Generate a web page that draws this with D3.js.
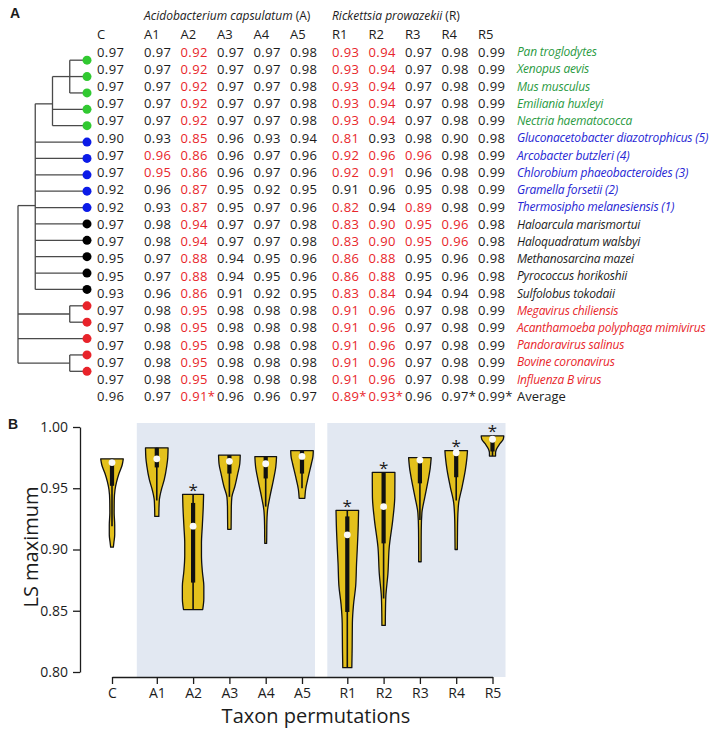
<!DOCTYPE html>
<html><head><meta charset="utf-8">
<script src="https://cdn.jsdelivr.net/npm/d3@7"></script>
<style>
body{margin:0;background:#fff}
svg{display:block}
text{font-family:"Open Sans",sans-serif;fill:#1c1c1c}
</style>
</head><body>
<svg id="chart" width="714" height="734"></svg>
<script>
// ---------------- DATA ----------------
const columns = ["C","A1","A2","A3","A4","A5","R1","R2","R3","R4","R5"];

const species = [
  "Pan troglodytes","Xenopus aevis","Mus musculus","Emiliania huxleyi","Nectria haematococca",
  "Gluconacetobacter diazotrophicus (5)","Arcobacter butzleri (4)","Chlorobium phaeobacteroides (3)",
  "Gramella forsetii (2)","Thermosipho melanesiensis (1)",
  "Haloarcula marismortui","Haloquadratum walsbyi","Methanosarcina mazei","Pyrococcus horikoshii","Sulfolobus tokodaii",
  "Megavirus chiliensis","Acanthamoeba polyphaga mimivirus","Pandoravirus salinus","Bovine coronavirus","Influenza B virus"
];
const speciesGroup = [
  "eukaryote","eukaryote","eukaryote","eukaryote","eukaryote",
  "bacterium","bacterium","bacterium","bacterium","bacterium",
  "archaeon","archaeon","archaeon","archaeon","archaeon",
  "virus","virus","virus","virus","virus"
];

// nested species indices (tree topology)
const treeTopology = [[[[0,1,2],3,4],5,6,7,8,9,10,11,12,13,14],[15,16],17,[18,19]];

const lsValues = [
  [0.97,0.97,0.92,0.97,0.97,0.98,0.93,0.94,0.97,0.98,0.99],
  [0.97,0.97,0.92,0.97,0.97,0.98,0.93,0.94,0.97,0.98,0.99],
  [0.97,0.97,0.92,0.97,0.97,0.98,0.93,0.94,0.97,0.98,0.99],
  [0.97,0.97,0.92,0.97,0.97,0.98,0.93,0.94,0.97,0.98,0.99],
  [0.97,0.97,0.92,0.97,0.97,0.98,0.93,0.94,0.97,0.98,0.99],
  [0.90,0.93,0.85,0.96,0.93,0.94,0.81,0.93,0.98,0.90,0.98],
  [0.97,0.96,0.86,0.96,0.97,0.96,0.92,0.96,0.96,0.98,0.99],
  [0.97,0.95,0.86,0.96,0.97,0.96,0.92,0.91,0.96,0.98,0.99],
  [0.92,0.96,0.87,0.95,0.92,0.95,0.91,0.96,0.95,0.98,0.99],
  [0.92,0.93,0.87,0.95,0.97,0.96,0.82,0.94,0.89,0.98,0.99],
  [0.97,0.98,0.94,0.97,0.97,0.98,0.83,0.90,0.95,0.96,0.98],
  [0.97,0.98,0.94,0.97,0.97,0.98,0.83,0.90,0.95,0.96,0.98],
  [0.95,0.97,0.88,0.94,0.95,0.96,0.86,0.88,0.95,0.96,0.98],
  [0.95,0.97,0.88,0.94,0.95,0.96,0.86,0.88,0.95,0.96,0.98],
  [0.93,0.96,0.86,0.91,0.92,0.95,0.83,0.84,0.94,0.94,0.98],
  [0.97,0.98,0.95,0.98,0.98,0.98,0.91,0.96,0.97,0.98,0.99],
  [0.97,0.98,0.95,0.98,0.98,0.98,0.91,0.96,0.97,0.98,0.99],
  [0.97,0.98,0.95,0.98,0.98,0.98,0.91,0.96,0.97,0.98,0.99],
  [0.97,0.98,0.95,0.98,0.98,0.98,0.91,0.96,0.97,0.98,0.99],
  [0.97,0.98,0.95,0.98,0.98,0.98,0.91,0.96,0.97,0.98,0.99]
];
// cells printed in red (significantly lower)
const redCells = [
  ["A2","R1","R2"],["A2","R1","R2"],["A2","R1","R2"],["A2","R1","R2"],["A2","R1","R2"],
  ["A2","R1"],
  ["A1","A2","R1","R2","R3"],
  ["A1","A2","R1","R2"],
  ["A2"],
  ["A2","R1","R3"],
  ["A2","R1","R2","R3","R4"],
  ["A2","R1","R2","R3","R4"],
  ["A2","R1","R2"],
  ["A2","R1","R2"],
  ["A2","R1","R2"],
  ["A2","R1","R2"],["A2","R1","R2"],["A2","R1","R2"],["A2","R1","R2"],["A2","R1","R2"]
];
const averageValues = [0.96,0.97,0.91,0.96,0.96,0.97,0.89,0.93,0.96,0.97,0.99];
const averageStarred = ["A2","R1","R2","R4","R5"];
const averageRed = ["A2","R1","R2"];

// violin summaries (panel B)
const violinMedian = [0.971,0.974,0.919,0.972,0.970,0.976,0.912,0.935,0.973,0.979,0.990];
const violinQ3     = [0.974,0.983,0.938,0.977,0.976,0.981,0.927,0.963,0.975,0.981,0.993];
const violinQ1     = [0.952,0.967,0.873,0.962,0.958,0.962,0.849,0.905,0.954,0.959,0.980];
const whiskerLow   = [0.919,0.940,0.851,0.943,0.935,0.950,0.8035,0.860,0.924,0.940,0.9763];
const significant  = [false,false,true,false,false,false,true,true,false,true,true];
// density profiles: [LS maximum, relative half-width]
const violinDensity = [
  [[0.974,1.0],[0.969,0.9],[0.962,0.62],[0.955,0.4],[0.949,0.27],[0.94,0.2],[0.93,0.19],[0.92,0.24],[0.912,0.24],[0.906,0.17],[0.902,0.12]],
  [[0.983,1.0],[0.975,0.97],[0.968,0.88],[0.957,0.66],[0.949,0.41],[0.94,0.22],[0.933,0.19],[0.927,0.18]],
  [[0.945,0.93],[0.935,0.9],[0.92,0.82],[0.905,0.74],[0.895,0.74],[0.882,0.82],[0.87,0.95],[0.86,0.95],[0.851,0.85]],
  [[0.977,0.96],[0.97,0.92],[0.962,0.74],[0.951,0.47],[0.943,0.22],[0.935,0.17],[0.925,0.16],[0.9165,0.15]],
  [[0.9758,0.96],[0.968,0.9],[0.957,0.69],[0.943,0.37],[0.932,0.16],[0.92,0.1],[0.91,0.09],[0.905,0.08]],
  [[0.9807,1.0],[0.976,0.97],[0.9704,0.84],[0.959,0.55],[0.949,0.32],[0.9418,0.25]],
  [[0.932,1.0],[0.92,0.97],[0.90,0.88],[0.889,0.82],[0.87,0.74],[0.855,0.55],[0.84,0.45],[0.82,0.43],[0.8035,0.4]],
  [[0.963,1.0],[0.955,1.0],[0.943,0.99],[0.924,0.81],[0.902,0.5],[0.88,0.38],[0.862,0.2],[0.848,0.16],[0.838,0.15]],
  [[0.975,1.0],[0.967,0.92],[0.957,0.74],[0.943,0.44],[0.93,0.18],[0.916,0.12],[0.9,0.11],[0.89,0.11]],
  [[0.9807,1.0],[0.975,0.95],[0.965,0.81],[0.951,0.52],[0.938,0.22],[0.924,0.13],[0.91,0.11],[0.9,0.1]],
  [[0.9927,1.0],[0.990,0.95],[0.986,0.62],[0.982,0.36],[0.979,0.27],[0.9763,0.27]]
];
const yTicks = [0.80,0.85,0.90,0.95,1.00];

// ---------------- STYLE ----------------
const RED = "#e8262b";
const textColor = {eukaryote:"#2a9a3f", bacterium:"#2626d4", archaeon:"#1c1c1c", virus:RED};
const dotColor  = {eukaryote:"#31c931", bacterium:"#0b1be8", archaeon:"#000000", virus:"#e8232a"};

const svg = d3.select("#chart");
const groupOf = c => c === "C" ? 0 : (c[0] === "A" ? 1 : 2);

// ---------------- PANEL A ----------------
svg.append("text").attr("x",10).attr("y",18).style("font-family","Arial, 'Liberation Sans', sans-serif")
  .style("font-weight","bold").style("font-size","14px").text("A");

const rowY = d3.scaleLinear().domain([0,19]).range([52,379.5]);
const groupStart = [97,144,332];
const colStep = 36.5;
const colX = c => {
  const g = groupOf(c);
  const k = g === 0 ? 0 : (+c.slice(1) - 1);
  return groupStart[g] + k*colStep;
};

// titles
const t1 = svg.append("text").attr("x",colX("A1")).attr("y",16).attr("dy","0.35em").style("font-size","12px");
t1.append("tspan").style("font-style","italic").text("Acidobacterium capsulatum");
t1.append("tspan").text(" (A)");
const t2 = svg.append("text").attr("x",colX("R1")).attr("y",16).attr("dy","0.35em").style("font-size","12px");
t2.append("tspan").style("font-style","italic").text("Rickettsia prowazekii");
t2.append("tspan").text(" (R)");

// headers
svg.append("g").selectAll("text").data(columns).join("text")
  .attr("x",d=>colX(d)).attr("y",34.5).attr("dy","0.35em")
  .style("font-size","13px").text(d=>d);

// value rows
const rowsG = svg.append("g");
lsValues.forEach((row,i)=>{
  rowsG.selectAll(null).data(row).join("text")
    .attr("x",(d,j)=>colX(columns[j])).attr("y",rowY(i)).attr("dy","0.35em")
    .style("font-size","13px").style("letter-spacing","0.4px")
    .style("fill",(d,j)=>redCells[i].includes(columns[j]) ? RED : "#1c1c1c")
    .text(d=>d3.format(".2f")(d));
});
// average row
rowsG.selectAll(null).data(averageValues).join("text")
  .attr("x",(d,j)=>colX(columns[j])).attr("y",rowY(20)).attr("dy","0.35em")
  .style("font-size","13px").style("letter-spacing","0.4px")
  .style("fill",(d,j)=>averageRed.includes(columns[j]) ? RED : "#1c1c1c")
  .text((d,j)=>d3.format(".2f")(d) + (averageStarred.includes(columns[j]) ? "*" : ""));

// species names
const nameX = 517;
svg.append("g").selectAll("text").data(species).join("text")
  .attr("x",nameX).attr("y",(d,i)=>rowY(i)).attr("dy","0.35em")
  .style("font-size","12px").style("font-style","italic").style("letter-spacing","-0.2px")
  .style("fill",(d,i)=>textColor[speciesGroup[i]]).text(d=>d);
svg.append("text").attr("x",nameX).attr("y",rowY(20)).attr("dy","0.35em")
  .style("font-size","13px").text("Average");

// tree
const root = d3.hierarchy(treeTopology, d => Array.isArray(d) ? d : null);
const treeLeft = 18, treeRight = 87;
d3.cluster().separation(()=>1).size([rowY(19)-rowY(0), treeRight-treeLeft])(root);
const ny = n => rowY(0) + n.x;
const nx = n => treeLeft + n.y;
const treeG = svg.append("g").attr("stroke","#4a4a4a").attr("stroke-width",1.3).attr("fill","none");
root.descendants().forEach(n=>{
  if(n.children){
    const ys = n.children.map(ny);
    treeG.append("line").attr("x1",nx(n)).attr("x2",nx(n)).attr("y1",d3.min(ys)).attr("y2",d3.max(ys));
  }
  if(n.parent){
    treeG.append("line").attr("x1",nx(n.parent)).attr("x2",nx(n)).attr("y1",ny(n)).attr("y2",ny(n));
  }
});
svg.append("g").selectAll("circle").data(root.leaves()).join("circle")
  .attr("cx",nx).attr("cy",ny).attr("r",4.5)
  .attr("fill",d=>dotColor[speciesGroup[d.data]]);

// ---------------- PANEL B ----------------
svg.append("text").attr("x",8).attr("y",429).style("font-family","Arial, 'Liberation Sans', sans-serif")
  .style("font-weight","bold").style("font-size","14px").text("B");

const y = d3.scaleLinear().domain([0.80,1.00]).range([672,427]);
const groupOffset = [0,8.5,17.5];
const xStep = 36.3, x0 = 112;
const x = d3.scaleOrdinal().domain(columns)
  .range(columns.map((c,i)=> x0 + i*xStep + groupOffset[groupOf(c)]));
const axisY = 677;

// background panels
const bgTop = y(1) - 4;
[["A1","A5"],["R1","R5"]].forEach(([a,b])=>{
  svg.append("rect").attr("x",x(a)-20).attr("y",bgTop)
    .attr("width",x(b)-x(a)+33).attr("height",axisY-bgTop).attr("fill","#e2e8f2");
});

const W = 11.3;
const vg = svg.append("g");
columns.forEach((c,i)=>{
  const cx = x(c);
  const prof = violinDensity[i];
  const area = d3.area().curve(d3.curveMonotoneY)
    .y(d=>y(d[0])).x0(d=>cx - d[1]*W).x1(d=>cx + d[1]*W);
  vg.append("path").attr("d",area(prof)).attr("fill","#e4c11c")
    .attr("stroke","#111").attr("stroke-width",1.3).attr("stroke-linejoin","round");
  const vmax = prof[0][0];
  vg.append("line").attr("x1",cx).attr("x2",cx).attr("y1",y(vmax)).attr("y2",y(whiskerLow[i]))
    .attr("stroke","#111").attr("stroke-width",1.6);
  vg.append("rect").attr("x",cx-2.1).attr("width",4.2)
    .attr("y",y(violinQ3[i])).attr("height",y(violinQ1[i])-y(violinQ3[i])).attr("fill","#111");
  vg.append("circle").attr("cx",cx).attr("cy",y(violinMedian[i])).attr("r",3.4).attr("fill","#fafafa");
  if(significant[i]){
    vg.append("text").attr("x",cx).attr("y",y(vmax)+1.5).attr("text-anchor","middle")
      .style("font-size","17px").text("*");
  }
});

// axes
const yAxis = svg.append("g").attr("transform","translate(80,0)")
  .call(d3.axisLeft(y).tickValues(yTicks).tickFormat(d3.format(".2f")).tickSize(7).tickSizeOuter(0).tickPadding(5));
const xAxis = svg.append("g").attr("transform",`translate(0,${axisY})`)
  .call(d3.axisBottom(x).tickSize(7).tickSizeOuter(0).tickPadding(4));
[yAxis,xAxis].forEach(g=>{
  g.selectAll("path,line").attr("stroke","#1c1c1c").attr("stroke-width",1.3);
  g.selectAll("text").style("font-family","'Open Sans',sans-serif").style("font-size","14px").attr("fill","#1c1c1c");
});

svg.append("text").attr("transform","translate(38,547) rotate(-90)").attr("text-anchor","middle")
  .style("font-size","20px").text("LS maximum");
svg.append("text").attr("x",316).attr("y",723).attr("text-anchor","middle")
  .style("font-size","20px").text("Taxon permutations");
</script>
</body></html>
